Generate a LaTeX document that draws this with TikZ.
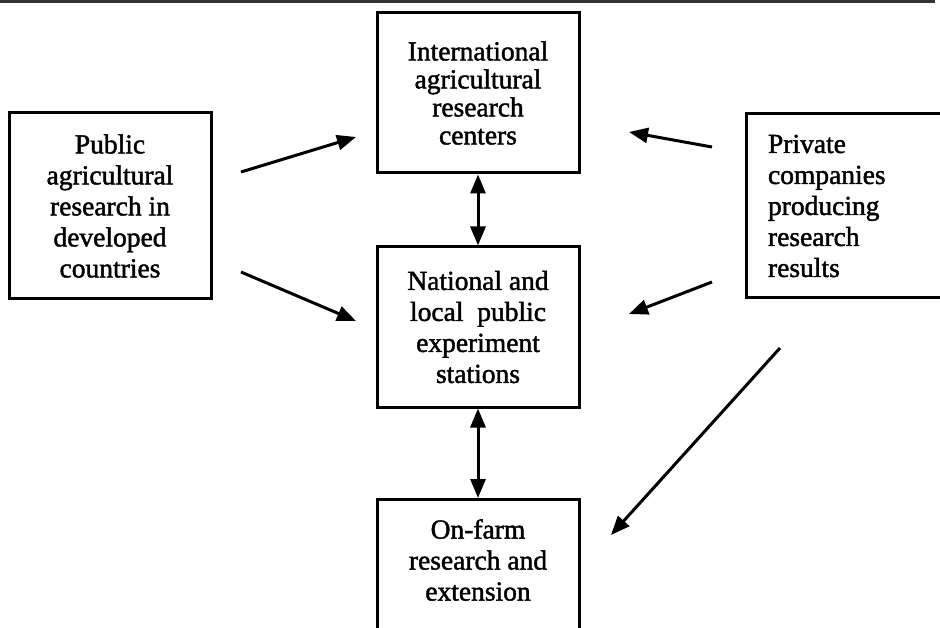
\documentclass[tikz,border=0pt]{standalone}
\usepackage{fontspec}
\setmainfont[FakeBold=1.6]{Liberation Serif}
\usetikzlibrary{arrows.meta}
\begin{document}
\begin{tikzpicture}[x=1pt,y=1pt,
 frame/.style={draw=black, line width=3pt, inner sep=0pt},
 lbl/.style={font=\fontsize{27.5}{31}\selectfont, align=center, inner sep=0pt},
 conn/.style={line width=3pt, -{Triangle[length=19pt,width=15pt]}},
 both/.style={line width=3pt, {Triangle[length=19pt,width=15pt]}-{Triangle[length=19pt,width=15pt]}}]
\useasboundingbox (0,0) rectangle (940,-628);
\clip (0,0) rectangle (940,-628);
% top rule
\coordinate (r1) at (0,-1.5);
\coordinate (r2) at (935,-1.5);
\draw[line width=2.2pt, draw=black!80] (r1) -- (r2);
% boxes
\node[frame, lbl, font=\fontsize{27.5}{28}\selectfont, minimum width=202pt, minimum height=160pt] (intl) at (478,-93)
  {International\\agricultural\\research\\centers};
\node[frame, lbl, minimum width=202pt, minimum height=186pt] (pub) at (110,-206)
  {Public\\agricultural\\research in\\developed\\countries};
\node[frame, lbl, minimum width=202pt, minimum height=160pt] (nat) at (478,-327)
  {National and\\local\ \ public\\experiment\\stations};
\node[frame, lbl, align=left, text width=170pt, minimum width=214pt, minimum height=184pt] (priv) at (853,-206)
  {Private\\companies\\producing\\research\\results};
\node[frame, minimum width=202pt, minimum height=170pt, anchor=north] (farm) at (478,-498) {};
\node[lbl] (farmtxt) at (478,-560) {On-farm\\research and\\extension};
% connectors
\coordinate (a1s) at (241,-172); \coordinate (a1e) at (356,-137);
\coordinate (a2s) at (241,-272); \coordinate (a2e) at (356,-321);
\coordinate (b1s) at (712,-147); \coordinate (b1e) at (629,-132);
\coordinate (b2s) at (712,-282); \coordinate (b2e) at (629,-314);
\coordinate (cs) at (780,-348);  \coordinate (ce) at (611,-535);
\draw[conn] (a1s) -- (a1e);
\draw[conn] (a2s) -- (a2e);
\draw[conn] (b1s) -- (b1e);
\draw[conn] (b2s) -- (b2e);
\draw[conn] (cs) -- (ce);
\draw[both] (intl.south) -- (nat.north);
\draw[both] (nat.south) -- (farm.north);
\end{tikzpicture}
\end{document}
